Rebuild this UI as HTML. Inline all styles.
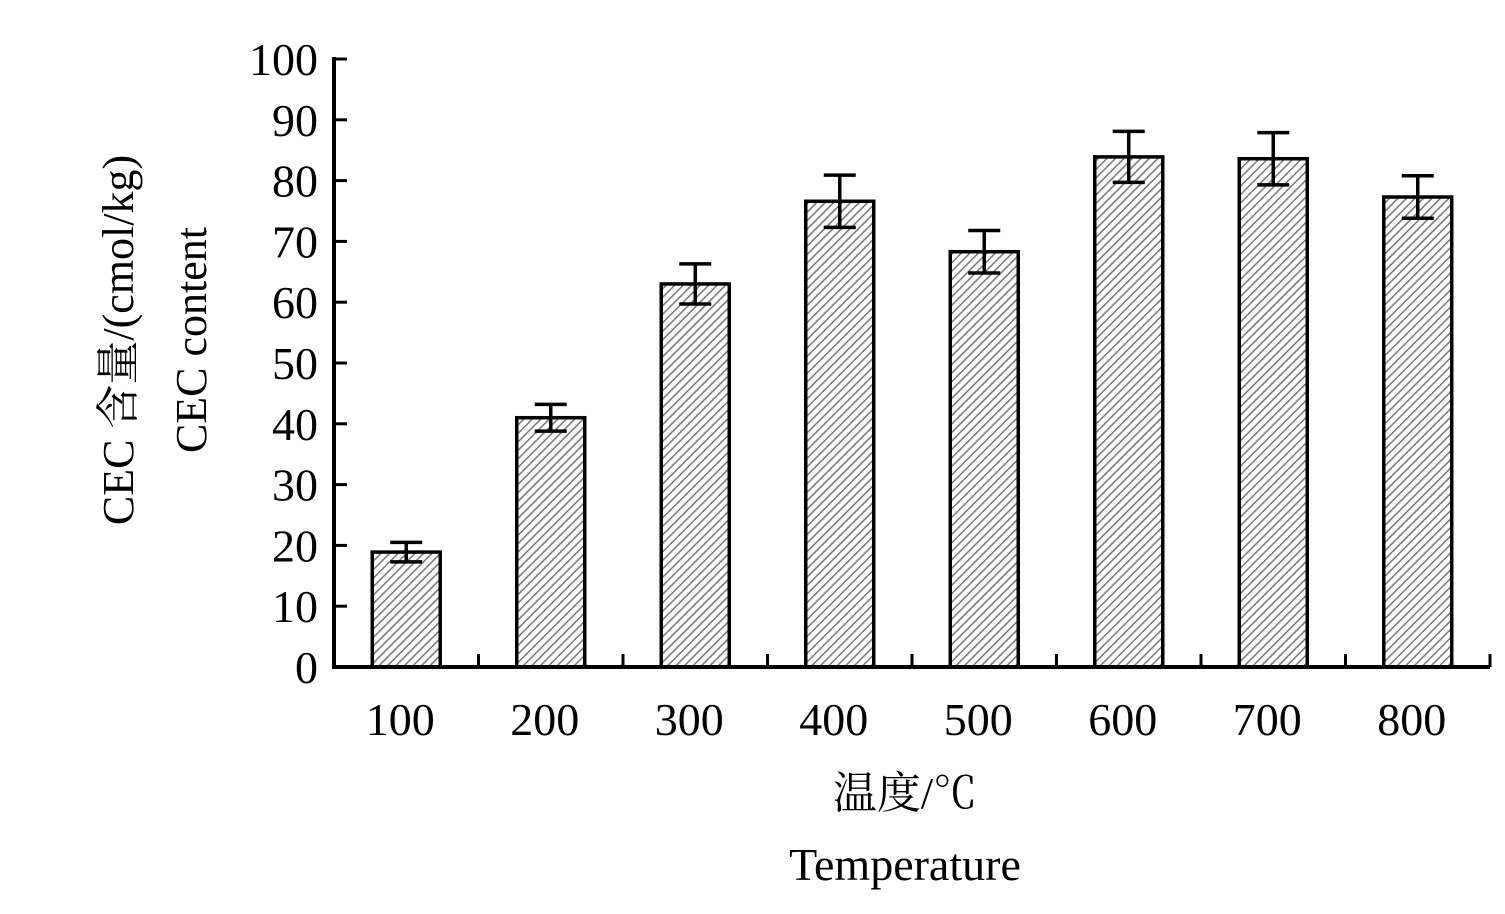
<!DOCTYPE html>
<html><head><meta charset="utf-8"><style>
body{margin:0;background:#fff;}
svg text{font-family:"Liberation Serif","Noto Serif CJK SC",serif;fill:#000;}
</style></head><body>
<svg width="1505" height="909" xmlns="http://www.w3.org/2000/svg">
<defs><pattern id="hatch" patternUnits="userSpaceOnUse" width="6" height="6" patternTransform="rotate(45)">
<rect width="6" height="6" fill="#fff"/><line x1="0" y1="0" x2="0" y2="6" stroke="#777" stroke-width="3"/></pattern></defs>
<g id="g"></g>
</svg>
<script>
const categories=["100","200","300","400","500","600","700","800"];
const values=[18.9,41,63,76.6,68.3,83.9,83.6,77.3];
const errors=[1.6,2.2,3.3,4.3,3.5,4.2,4.3,3.5];
const yTicks=[0,10,20,30,40,50,60,70,80,90,100];
const NS="http://www.w3.org/2000/svg";
const g=document.getElementById('g');
const x0=334,x1=1490,y0=667,yTop=59;
const y=v=>y0-(v/100)*(y0-yTop);
const step=144.5;
const cx=i=>x0+step*(i+0.5);
function mk(t,a){const e=document.createElementNS(NS,t);for(const k in a)e.setAttribute(k,a[k]);g.appendChild(e);return e;}
let e;
yTicks.forEach(t=>{
 e=mk('line',{x1:x0,x2:x0+13,y1:y(t),y2:y(t),stroke:'#000','stroke-width':3});
 
 
 e=mk('text',{x:318,y:y(t)+16,'text-anchor':'end','font-size':46});
 e.textContent=t;
 
 
});
categories.forEach((c,i)=>{
 const bw=68,bx=cx(i)-bw/2;
 e=mk('rect',{x:bx,y:y(values[i]),width:bw,height:y0-y(values[i]),fill:'url(#hatch)',stroke:'#000','stroke-width':3.5});
 
 
 const t=y(values[i]+errors[i]),b=y(values[i]-errors[i]);
 e=mk('path',{d:`M${cx(i)},${t}V${b}M${cx(i)-16},${t}H${cx(i)+16}M${cx(i)-16},${b}H${cx(i)+16}`,stroke:'#000','stroke-width':3.5,fill:'none'});
 
 
 e=mk('line',{x1:x0+step*(i+1),x2:x0+step*(i+1),y1:y0,y2:y0-13,stroke:'#000','stroke-width':3});
 
 
 e=mk('text',{x:cx(i)-6,y:735,'text-anchor':'middle','font-size':46});
 e.textContent=c;
 
 
});
e=mk('path',{d:`M${x0},${yTop-2}V${y0}H${x1}`,stroke:'#000','stroke-width':4,fill:'none'});


e=mk('text',{x:905,y:808,'text-anchor':'middle','font-size':44});
e.textContent='温度/℃';


e=mk('text',{x:905,y:880,'text-anchor':'middle','font-size':46});
e.textContent='Temperature';


e=mk('text',{x:0,y:0,'text-anchor':'middle','font-size':44,transform:'translate(133,340) rotate(-90)'});
e.textContent='CEC 含量/(cmol/kg)';


e=mk('text',{x:0,y:0,'text-anchor':'middle','font-size':44,transform:'translate(206,340) rotate(-90)'});
e.textContent='CEC content';


</script>
</body></html>
